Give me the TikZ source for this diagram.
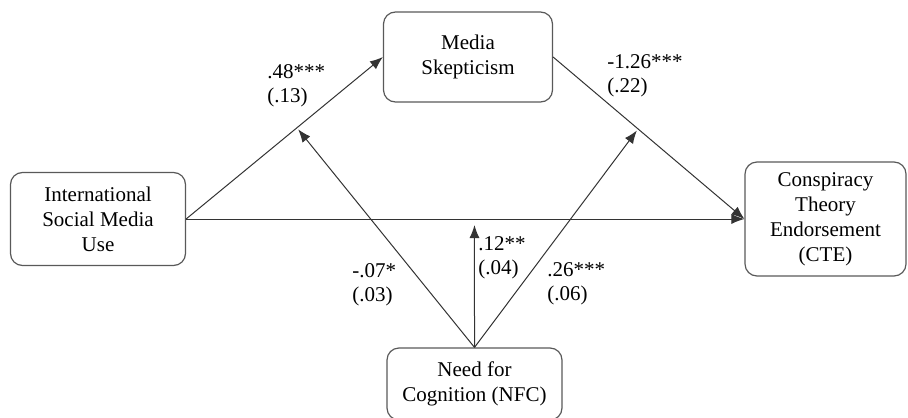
\documentclass[tikz,border=0pt]{standalone}
\usepackage{fontspec}
\setmainfont{Liberation Serif}
\usetikzlibrary{arrows.meta}

\begin{document}
\begin{tikzpicture}[x=0.5pt, y=-0.5pt,
  var/.style={draw=black!65, line width=0.6pt, rounded corners=6pt, align=center,
    inner sep=2pt, font=\fontsize{10.5}{12.5}\selectfont},
  coef/.style={anchor=west, align=left, inner sep=0pt, font=\fontsize{10.5}{12}\selectfont},
  link/.style={draw=black!80, line width=0.5pt, -{Latex[length=6.5pt,width=5pt]}}]

\useasboundingbox (0,0) rectangle (908,417);
\clip (0,0) rectangle (908,417);

% Define nodes
\path (98,219)
node[var, minimum width=87.5pt, minimum height=46.5pt] (ismu) {International\\ Social Media\\ Use}
(468,57) node[var, minimum width=84.5pt, minimum height=45pt] (ms) {Media\\ Skepticism}
(825.5,219) node[var, minimum width=80.5pt, minimum height=57pt] (cte) {Conspiracy\\ Theory\\ Endorsement\\ (CTE)}
(474.5,384) node[var, minimum width=87.5pt, minimum height=36pt] (nfc) {Need for\\ Cognition (NFC)}
;

% Paths
\draw[link] (ismu.east) -- coordinate[pos=0.563] (a) (ms.west);
\draw[link] (ms.east) -- coordinate[pos=0.444] (b) (cte.west);
\draw[link] (ismu.east) -- coordinate[pos=0.5165] (c) (cte.west);

% Moderation
\draw[link, shorten >=1pt] (nfc.north) -- (a);
\draw[link, shorten >=1pt] (nfc.north) -- (b);
\draw[link, shorten >=3pt] (nfc.north) -- (c);

% Coefficients
\path
(267,85.5) node[coef] (ca) {.48***\\ (.13)}
(607,75.5) node[coef] (cb) {-1.26***\\ (.22)}
(352,285) node[coef] (cma) {-.07*\\ (.03)}
(478,257.5) node[coef] (cmc) {.12**\\ (.04)}
(547,284) node[coef] (cmb) {.26***\\ (.06)}
;

\end{tikzpicture}
\end{document}
